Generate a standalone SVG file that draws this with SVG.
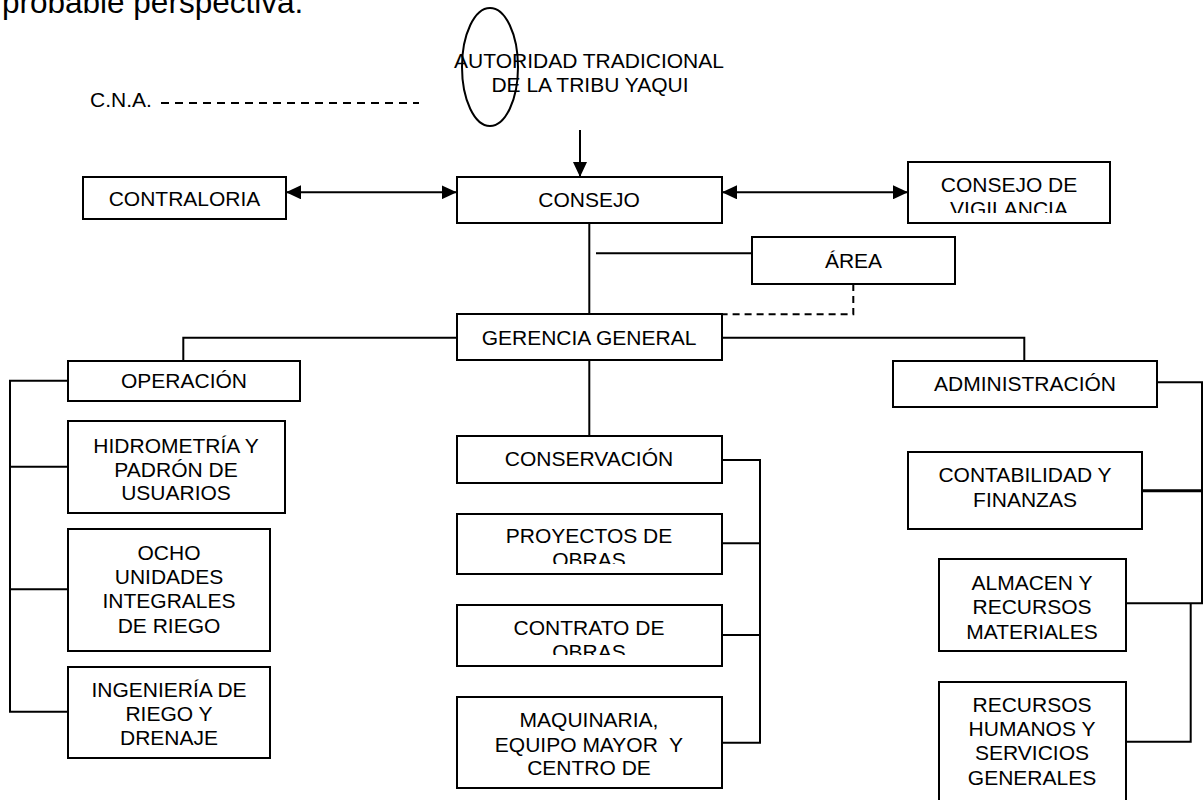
<svg xmlns="http://www.w3.org/2000/svg" width="1204" height="800" viewBox="0 0 1204 800">
<style>
.box{fill:#fff;stroke:#000;stroke-width:2}
.t{font-family:"Liberation Sans",Arial,sans-serif;font-size:21px;fill:#000;text-anchor:middle}
.c{fill:none;stroke:#000;stroke-width:2}
.d{stroke-dasharray:8 6}
</style>
<defs>
<marker id="ah" viewBox="0 0 15 14" refX="15" refY="7" markerWidth="15" markerHeight="14" markerUnits="userSpaceOnUse" orient="auto-start-reverse"><path d="M0,0 L15,7 L0,14 z" fill="#000"/></marker>
<clipPath id="clipVig"><rect x="908" y="162" width="202" height="51"/></clipPath>
<clipPath id="clipPro"><rect x="457" y="514" width="265" height="50"/></clipPath>
<clipPath id="clipCon"><rect x="457" y="605" width="265" height="50"/></clipPath>
</defs>
<rect width="1204" height="800" fill="#fff"/>
<text x="2" y="13" style="font-family:'Liberation Sans',Arial,sans-serif;font-size:31.5px">probable perspectiva.</text>

<g id="connectors">
<line class="c d" x1="161" y1="103" x2="419" y2="103"/>
<line class="c" x1="580" y1="130" x2="580" y2="177" marker-end="url(#ah)"/>
<line class="c" x1="286" y1="192.3" x2="456.7" y2="192.3" marker-start="url(#ah)" marker-end="url(#ah)"/>
<line class="c" x1="722" y1="192.3" x2="908" y2="192.3" marker-start="url(#ah)" marker-end="url(#ah)"/>
<line class="c" x1="589.3" y1="223" x2="589.3" y2="314"/>
<line class="c" x1="596" y1="253.3" x2="752" y2="253.3"/>
<polyline class="c" style="stroke-dasharray:7 5" points="853.3,284 853.3,314.3 722,314.3"/>
<polyline class="c" points="457,337.7 183.3,337.7 183.3,361"/>
<polyline class="c" points="722,337.7 1024.3,337.7 1024.3,361"/>
<line class="c" x1="589.3" y1="360" x2="589.3" y2="436"/>
<polyline class="c" points="68,380.7 10,380.7 10,711.7 68,711.7"/>
<line class="c" x1="10" y1="466.7" x2="68" y2="466.7"/>
<line class="c" x1="10" y1="589.3" x2="68" y2="589.3"/>
<polyline class="c" points="722,460 760,460 760,742.7 722,742.7"/>
<line class="c" x1="722" y1="543.3" x2="760" y2="543.3"/>
<line class="c" x1="722" y1="635" x2="760" y2="635"/>
<polyline class="c" points="1157,382.3 1202,382.3 1202,603.3 1126,603.3"/>
<line class="c" style="stroke-width:3" x1="1142" y1="490.7" x2="1202" y2="490.7"/>
<polyline class="c" points="1190.7,603.3 1190.7,741.7 1126,741.7"/>
</g>

<g id="autoridad">
<text class="t" x="589" y="68">AUTORIDAD TRADICIONAL</text>
<text class="t" x="590" y="92">DE LA TRIBU YAQUI</text>
<ellipse cx="490" cy="67" rx="28" ry="59" fill="none" stroke="#000" stroke-width="2"/>
</g>
<g id="cna"><text class="t" x="90" y="107" style="text-anchor:start">C.N.A.</text></g>
<g id="contraloria"><rect class="box" x="83" y="177" width="203" height="42"/><text class="t" x="184.5" y="206">CONTRALORIA</text></g>
<g id="consejo"><rect class="box" x="457" y="177" width="265" height="46"/><text class="t" x="589" y="207">CONSEJO</text></g>
<g id="vigilancia"><rect class="box" x="908" y="162" width="202" height="61"/>
<g clip-path="url(#clipVig)"><text class="t" x="1009" y="192">CONSEJO DE</text><text class="t" x="1009" y="216">VIGILANCIA</text></g></g>
<g id="area"><rect class="box" x="752" y="237" width="203" height="47"/><text class="t" x="853.5" y="268">ÁREA</text></g>
<g id="gerencia"><rect class="box" x="457" y="314" width="265" height="46"/><text class="t" x="589" y="344.5">GERENCIA GENERAL</text></g>
<g id="operacion"><rect class="box" x="68" y="361" width="232" height="40"/><text class="t" x="184" y="388">OPERACIÓN</text></g>
<g id="hidrometria"><rect class="box" x="68" y="421" width="217" height="92"/>
<text class="t" x="176" y="453">HIDROMETRÍA Y</text><text class="t" x="176" y="477">PADRÓN DE</text><text class="t" x="176" y="500">USUARIOS</text></g>
<g id="ocho"><rect class="box" x="68" y="529" width="202" height="122"/>
<text class="t" x="169" y="560">OCHO</text><text class="t" x="169" y="584">UNIDADES</text><text class="t" x="169" y="608">INTEGRALES</text><text class="t" x="169" y="633">DE RIEGO</text></g>
<g id="ingenieria"><rect class="box" x="68" y="667" width="202" height="91"/>
<text class="t" x="169" y="697">INGENIERÍA DE</text><text class="t" x="169" y="721">RIEGO Y</text><text class="t" x="169" y="745">DRENAJE</text></g>
<g id="conservacion"><rect class="box" x="457" y="436" width="265" height="47"/><text class="t" x="589" y="466">CONSERVACIÓN</text></g>
<g id="proyectos"><rect class="box" x="457" y="514" width="265" height="60"/>
<g clip-path="url(#clipPro)"><text class="t" x="589" y="543">PROYECTOS DE</text><text class="t" x="589" y="567">OBRAS</text></g></g>
<g id="contrato"><rect class="box" x="457" y="605" width="265" height="61"/>
<g clip-path="url(#clipCon)"><text class="t" x="589" y="635">CONTRATO DE</text><text class="t" x="589" y="659">OBRAS</text></g></g>
<g id="maquinaria"><rect class="box" x="457" y="697" width="265" height="91"/>
<text class="t" x="589" y="727">MAQUINARIA,</text><text class="t" x="589" y="751.5" style="white-space:pre">EQUIPO MAYOR  Y</text><text class="t" x="589" y="775">CENTRO DE</text></g>
<g id="administracion"><rect class="box" x="893" y="361" width="264" height="46"/><text class="t" x="1025" y="391">ADMINISTRACIÓN</text></g>
<g id="contabilidad"><rect class="box" x="908" y="452" width="234" height="77"/>
<text class="t" x="1025" y="482">CONTABILIDAD Y</text><text class="t" x="1025" y="507">FINANZAS</text></g>
<g id="almacen"><rect class="box" x="939" y="559" width="187" height="92"/>
<text class="t" x="1032" y="590">ALMACEN Y</text><text class="t" x="1032" y="614">RECURSOS</text><text class="t" x="1032" y="639">MATERIALES</text></g>
<g id="rrhh"><rect class="box" x="939" y="682" width="187" height="130"/>
<text class="t" x="1032" y="712">RECURSOS</text><text class="t" x="1032" y="736">HUMANOS Y</text><text class="t" x="1032" y="760">SERVICIOS</text><text class="t" x="1032" y="785">GENERALES</text></g>
</svg>
